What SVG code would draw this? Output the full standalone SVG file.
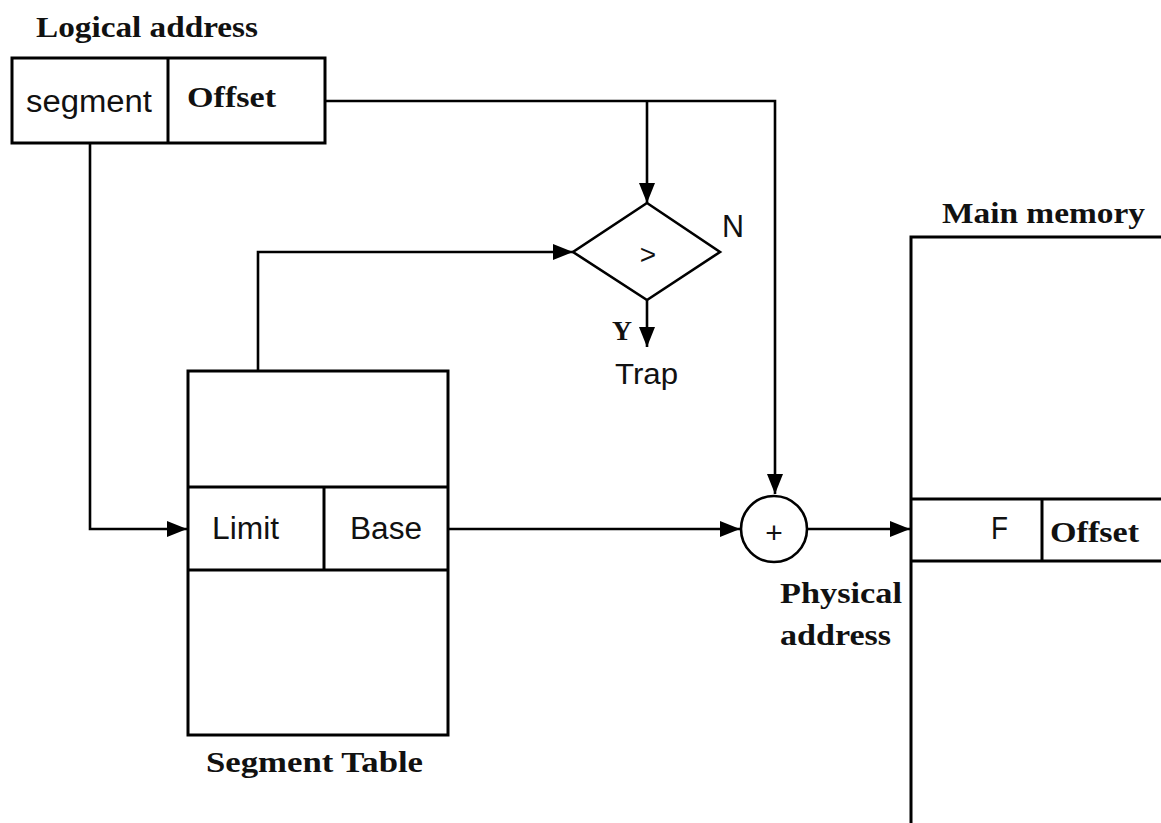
<svg xmlns="http://www.w3.org/2000/svg" width="1161" height="823" viewBox="0 0 1161 823">
<defs>
<style>
.box{fill:#fff;stroke:#000;stroke-width:3}
.ln{fill:none;stroke:#000;stroke-width:3}
.conn{fill:none;stroke:#000;stroke-width:2.6;marker-end:url(#arr)}
.ser{font-family:"Liberation Serif","DejaVu Serif",serif;font-weight:bold;fill:#111}
.san{font-family:"Liberation Sans",Arial,sans-serif;fill:#111}
</style>
<marker id="arr" markerUnits="userSpaceOnUse" markerWidth="20" markerHeight="16" refX="20" refY="8" orient="auto">
<path d="M0,0 L20,8 L0,16 z" fill="#000"/>
</marker>
</defs>
<rect width="1161" height="823" fill="#fff"/>

<g id="connectors">
<polyline class="conn" points="325,101 775,101 775,494"/>
<line class="conn" x1="647" y1="101" x2="647" y2="203"/>
<polyline class="conn" points="258,487 258,252 573,252"/>
<line class="conn" x1="647" y1="300" x2="647" y2="347"/>
<polyline class="conn" points="90,143 90,529 187,529"/>
<line class="conn" x1="448" y1="529" x2="740" y2="529"/>
<line class="conn" x1="808" y1="529" x2="910" y2="529"/>
</g>

<g id="logical-address">
<text class="ser" x="36" y="37" font-size="29" textLength="222" lengthAdjust="spacingAndGlyphs">Logical address</text>
<rect class="box" x="12" y="58" width="313" height="85"/>
<line class="ln" x1="168" y1="58" x2="168" y2="143"/>
<text class="san" x="26" y="112" font-size="31" textLength="126" lengthAdjust="spacingAndGlyphs">segment</text>
<text class="ser" x="187" y="107" font-size="30" textLength="89" lengthAdjust="spacingAndGlyphs">Offset</text>
</g>

<g id="compare">
<polygon points="647,203 720,252 647,300 573,252" fill="#fff" stroke="#000" stroke-width="2.6"/>
<text class="san" x="648" y="264" font-size="28" text-anchor="middle">&gt;</text>
<text class="san" x="722" y="237" font-size="31" textLength="22" lengthAdjust="spacingAndGlyphs">N</text>
<text class="ser" x="612" y="340" font-size="27" textLength="20" lengthAdjust="spacingAndGlyphs">Y</text>
<text class="san" x="615" y="384" font-size="30" textLength="63" lengthAdjust="spacingAndGlyphs">Trap</text>
</g>

<g id="segment-table">
<rect class="box" x="188" y="371" width="260" height="364"/>
<line class="ln" x1="188" y1="487" x2="448" y2="487"/>
<line class="ln" x1="188" y1="570" x2="448" y2="570"/>
<line class="ln" x1="324" y1="487" x2="324" y2="570"/>
<text class="san" x="212" y="539" font-size="31" textLength="67" lengthAdjust="spacingAndGlyphs">Limit</text>
<text class="san" x="350" y="539" font-size="31" textLength="72" lengthAdjust="spacingAndGlyphs">Base</text>
<text class="ser" x="206" y="772" font-size="29" textLength="217" lengthAdjust="spacingAndGlyphs">Segment Table</text>
</g>

<g id="adder">
<circle cx="774" cy="529" r="33" fill="#fff" stroke="#000" stroke-width="2.6"/>
<text class="san" x="774" y="543" font-size="30" text-anchor="middle">+</text>
<text class="ser" x="780" y="603" font-size="29" textLength="122" lengthAdjust="spacingAndGlyphs">Physical</text>
<text class="ser" x="780" y="645" font-size="29" textLength="111" lengthAdjust="spacingAndGlyphs">address</text>
</g>

<g id="main-memory">
<text class="ser" x="942" y="223" font-size="29" textLength="203" lengthAdjust="spacingAndGlyphs">Main memory</text>
<rect class="box" x="911" y="237" width="300" height="640"/>
<line class="ln" x1="911" y1="499" x2="1161" y2="499"/>
<line class="ln" x1="911" y1="561" x2="1161" y2="561"/>
<line class="ln" x1="1042" y1="499" x2="1042" y2="561"/>
<text class="san" x="991" y="539" font-size="31" textLength="17" lengthAdjust="spacingAndGlyphs">F</text>
<text class="ser" x="1050" y="542" font-size="30" textLength="89" lengthAdjust="spacingAndGlyphs">Offset</text>
</g>
</svg>
